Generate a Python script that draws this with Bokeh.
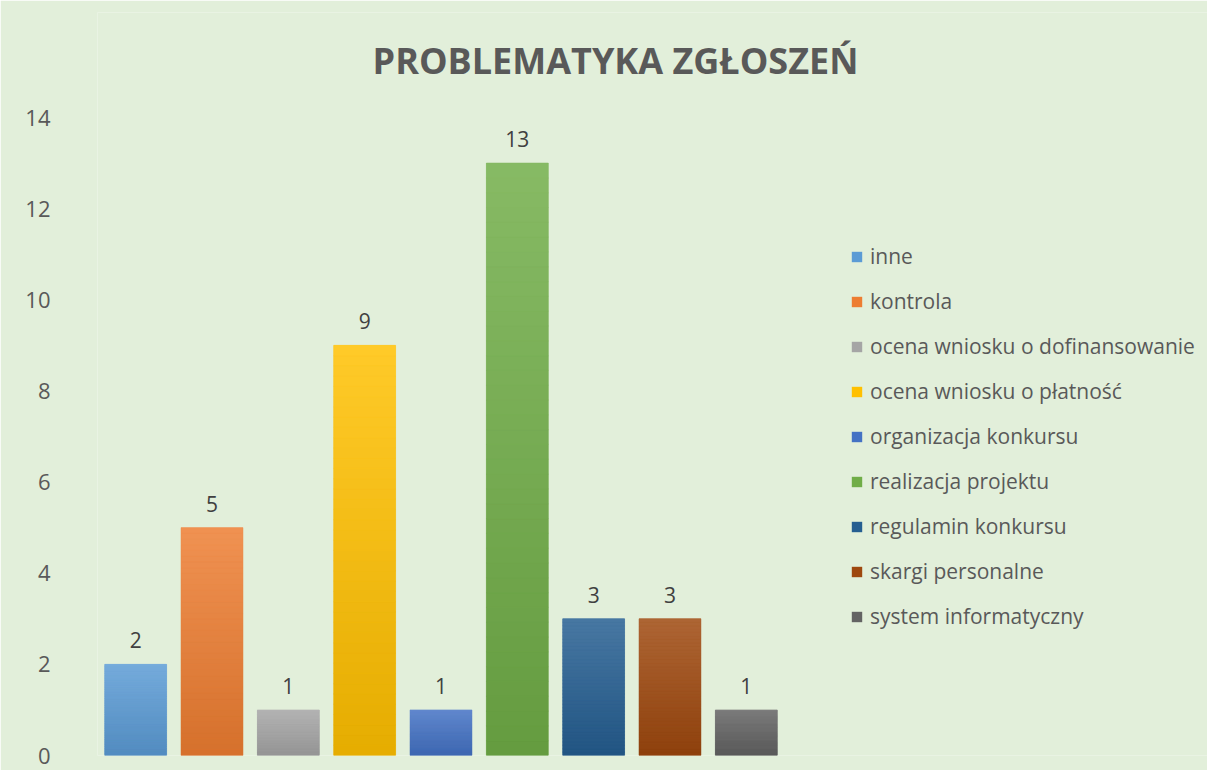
import numpy as np
from bokeh.plotting import figure
from bokeh.models import ColumnDataSource, Range1d, FixedTicker, Label, Legend, LegendItem
from bokeh.core.properties import value
from bokeh.embed import file_html
from bokeh.resources import INLINE

categories = ["inne", "kontrola", "ocena wniosku o dofinansowanie",
              "ocena wniosku o płatność", "organizacja konkursu",
              "realizacja projektu", "regulamin konkursu",
              "skargi personalne", "system informatyczny"]
counts = [2, 5, 1, 9, 1, 13, 3, 3, 1]
colors = ["#5B9BD5", "#ED7D31", "#A5A5A5", "#FFC000", "#4472C4",
          "#70AD47", "#255E91", "#9E480E", "#636363"]
y_ticks = [0, 2, 4, 6, 8, 10, 12, 14]
title_text = "PROBLEMATYKA ZGŁOSZEŃ"

BG = "#E2EFDA"
FONT = "Open Sans"

# layout (pixels)
W, H = 1207, 770
LEFT, TOP, BOTTOM = 97, 12, 15
PX_PER_UNIT_Y = 638 / 14.0
PX_PER_CAT = 76.33

frame_w = W - LEFT
frame_h = H - TOP - BOTTOM
n = len(categories)
xs = np.arange(n)

p = figure(width=W, height=H, output_backend="svg", toolbar_location=None,
           x_range=Range1d(-0.5, -0.5 + frame_w / PX_PER_CAT),
           y_range=Range1d(0, frame_h / PX_PER_UNIT_Y),
           min_border_left=LEFT, min_border_right=0, min_border_top=TOP,
           min_border_bottom=BOTTOM)
p.frame_width = frame_w
p.frame_height = frame_h
p.background_fill_color = BG
p.border_fill_color = BG
p.outline_line_color = None
p.xgrid.visible = False
p.ygrid.visible = False
p.xaxis.visible = False

ya = p.yaxis[0]
ya.ticker = FixedTicker(ticks=y_ticks)
ya.axis_line_color = None
ya.major_tick_line_color = None
ya.minor_tick_line_color = None
ya.major_label_text_font = FONT
ya.major_label_text_font_size = "22px"
ya.major_label_text_color = "#595959"
ya.major_label_standoff = 41


def hex2rgb(h):
    return np.array([int(h[i:i + 2], 16) for i in (1, 3, 5)], dtype=float)


def rgb2hex(c):
    c = np.clip(np.round(c), 0, 255).astype(int)
    return "#%02x%02x%02x" % tuple(c)


# solid bars (used by the legend)
src = ColumnDataSource(dict(x=xs, cat=categories, v=counts, c=colors,
                            lbl=[str(v) for v in counts]))
solid = p.vbar(x="x", top="v", width=0.81, bottom=0, source=src, fill_color="c",
               line_color=None)

# gradient overlay: each bar split in slices, lighter at the top
K = 40
gx, gb, gt, gc = [], [], [], []
for i, (v, c) in enumerate(zip(counts, colors)):
    base = hex2rgb(c)
    top_c = base + (255 - base) * 0.16
    bot_c = base * 0.90
    for k in range(K):
        f0, f1 = k / K, (k + 1) / K
        t = (f0 + f1) / 2
        gx.append(xs[i])
        gb.append(v * f0)
        gt.append(v * f1)
        gc.append(rgb2hex(bot_c + (top_c - bot_c) * t))
gsrc = ColumnDataSource(dict(x=gx, b=gb, t=gt, c=gc))
p.vbar(x="x", bottom="b", top="t", width=0.81, source=gsrc, fill_color="c",
       line_color="c", line_width=0.6)

p.text(x="x", y="v", text="lbl", source=src, text_align="center",
       text_baseline="middle", y_offset=-24, text_font=value(FONT),
       text_font_size="21px", text_color="#404040")

title = Label(x=615 - LEFT, y=(H - BOTTOM) - 60, x_units="screen",
              y_units="screen", text=title_text, text_align="center",
              text_baseline="middle", text_font=FONT, text_font_size="36px",
              text_font_style="bold", text_color="#595959")
p.add_layout(title)

legend = Legend(items=[LegendItem(label=cat, renderers=[solid], index=i)
                       for i, cat in enumerate(categories)])
legend.location = (850 - LEFT, (H - BOTTOM) - 630)
legend.background_fill_alpha = 0
legend.border_line_color = None
legend.padding = 0
legend.margin = 0
legend.glyph_width = 13
legend.glyph_height = 13
legend.label_height = 20
legend.spacing = 17
legend.label_standoff = 7
legend.label_text_font = FONT
legend.label_text_font_size = "21px"
legend.label_text_color = "#595959"
p.add_layout(legend)

open("out.html", "w").write(file_html(p, INLINE))
